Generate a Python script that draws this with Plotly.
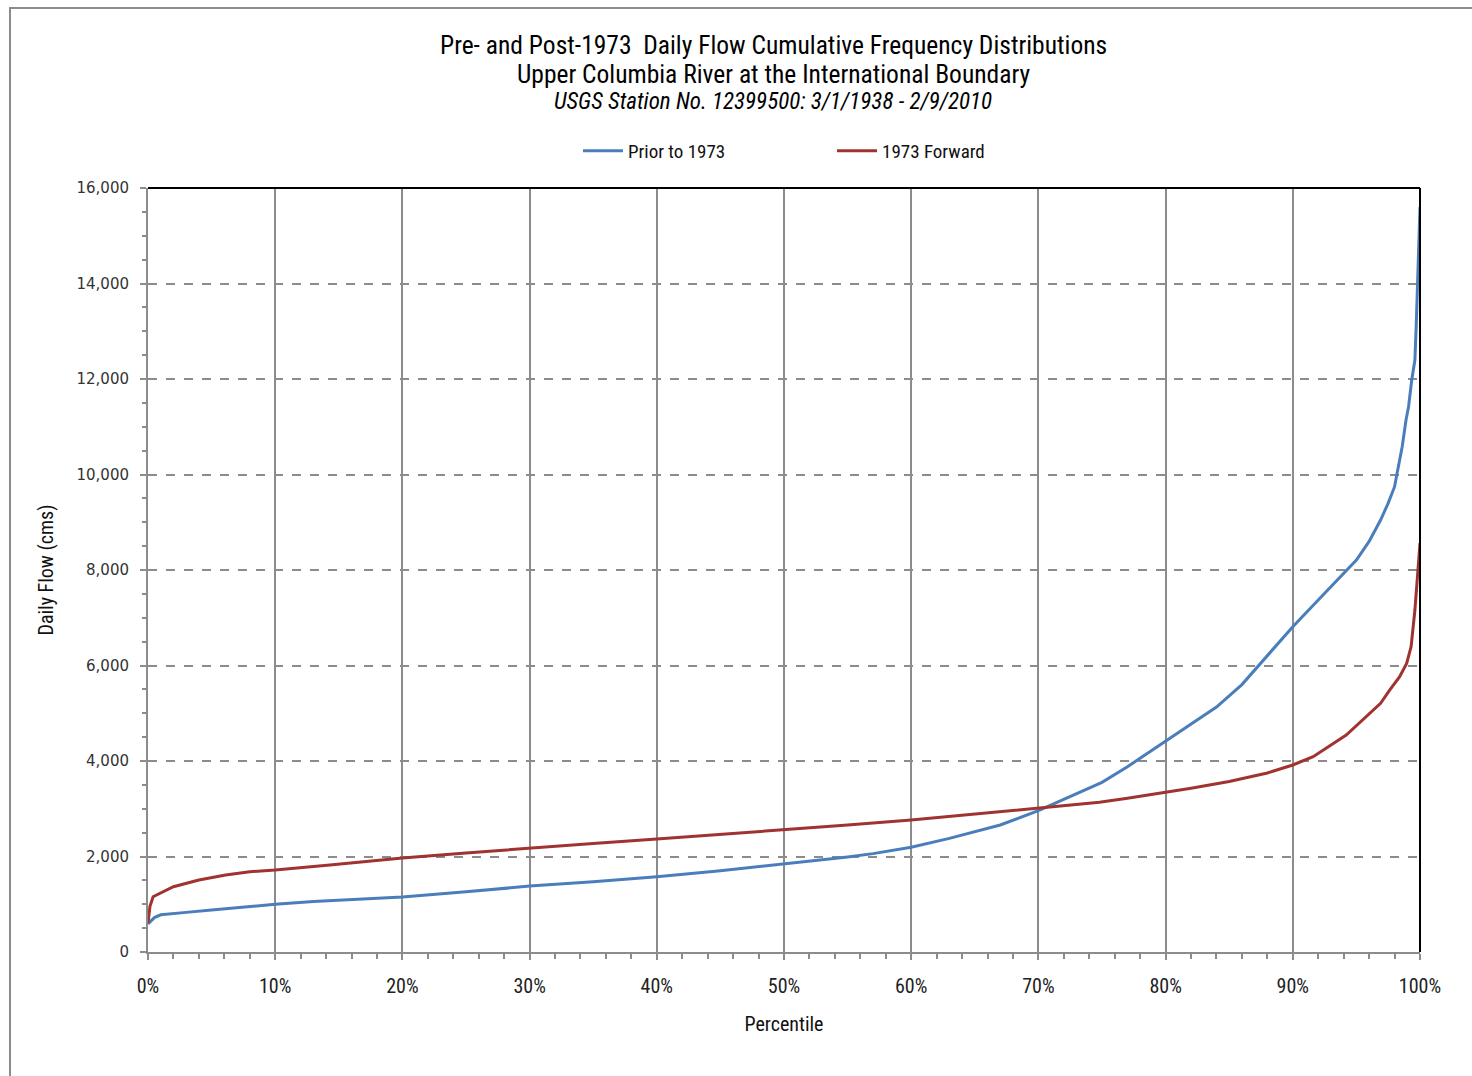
import plotly.graph_objects as go

# Percentile (%) and daily flow (cms)
pre_pct = [0, 0.5, 1, 2, 3, 5, 7, 10, 13, 16, 20, 25, 30, 35, 40, 45, 50, 55, 57, 60, 63, 65, 67, 70, 72, 75, 77, 80, 82, 84, 86, 88, 90, 92, 93.6, 95, 96, 96.9, 97.5, 98, 98.2, 98.6, 98.9, 99.1, 99.35, 99.6, 99.7, 99.8, 99.95, 100]
pre_flow = [590, 720, 780, 800, 830, 880, 930, 1000, 1060, 1100, 1150, 1260, 1380, 1470, 1577, 1700, 1843, 1990, 2060, 2192, 2380, 2520, 2660, 2960, 3200, 3553, 3880, 4418, 4760, 5130, 5600, 6200, 6813, 7370, 7826, 8209, 8600, 9047, 9400, 9745, 10025, 10583, 11141, 11420, 11979, 12398, 13096, 14073, 15554, 15600]

post_pct = [0, 0.15, 0.4, 0.94, 2, 4, 6.1, 8, 10, 14.3, 20, 25, 30, 35, 40, 45, 50, 55, 60, 65, 70, 74.8, 77, 80, 82, 85, 88, 90, 91.6, 94.2, 95.5, 96.9, 97.6, 98.4, 98.95, 99.3, 99.6, 99.8, 100]
post_flow = [600, 950, 1158, 1229, 1368, 1508, 1612, 1682, 1717, 1822, 1969, 2075, 2178, 2270, 2366, 2460, 2555, 2660, 2764, 2890, 3009, 3134, 3220, 3340, 3430, 3570, 3750, 3916, 4090, 4545, 4859, 5208, 5480, 5766, 6045, 6394, 7162, 7860, 8565]

title_lines = [
    "Pre- and Post-1973  Daily Flow Cumulative Frequency Distributions",
    "Upper Columbia River at the International Boundary",
    "<i>USGS Station No. 12399500: 3/1/1938 - 2/9/2010</i>",
]
series_names = ["Prior to 1973", "1973 Forward"]
x_ticks = list(range(0, 101, 10))
x_ticklabels = [f"{v}%" for v in x_ticks]
y_ticks = list(range(0, 16001, 2000))

NARROW = "Liberation Sans Narrow, Arial Narrow, Roboto Condensed, Roboto, sans-serif"
BLUE = "#4A7EBB"
RED = "#A0332F"

fig = go.Figure()
fig.add_trace(go.Scatter(x=pre_pct, y=pre_flow, mode="lines", name=series_names[0],
                         line=dict(color=BLUE, width=3)))
fig.add_trace(go.Scatter(x=post_pct, y=post_flow, mode="lines", name=series_names[1],
                         line=dict(color=RED, width=3)))

fig.update_layout(
    width=1472, height=1076,
    margin=dict(l=148, r=52, t=188, b=124),
    paper_bgcolor="white", plot_bgcolor="white",
    showlegend=True,
    legend=dict(orientation="h", x=(578 - 148) / 1272, xanchor="left",
                y=(952 - 151) / 764, yanchor="middle",
                font=dict(family=NARROW, size=19, color="#111"),
                entrywidth=199, entrywidthmode="pixels", bgcolor="rgba(0,0,0,0)",
                itemwidth=40),
    font=dict(family=NARROW, color="#111"),
)

fig.update_xaxes(
    range=[0, 100], tickvals=x_ticks, ticktext=x_ticklabels,
    tickfont=dict(family=NARROW, size=20, color="#222"),
    ticklabelstandoff=9,
    showgrid=True, gridcolor="#8C8C8C", gridwidth=1.5,
    showline=True, linecolor="#8C8C8C", linewidth=2,
    ticks="outside", ticklen=6, tickcolor="#8C8C8C", tickwidth=1.5,
    minor=dict(dtick=2, ticks="outside", ticklen=5, tickcolor="#8C8C8C", tickwidth=1.5, showgrid=False),
    zeroline=False,
    title=dict(text="Percentile", font=dict(family=NARROW, size=20, color="#111"), standoff=20),
)
fig.update_yaxes(
    range=[0, 16000], tickvals=y_ticks, tickformat=",d",
    tickfont=dict(family="DejaVu Sans", size=15, color="#333"),
    ticklabelstandoff=8,
    showgrid=True, gridcolor="#8C8C8C", gridwidth=1.5, griddash="dash",
    showline=True, linecolor="#8C8C8C", linewidth=2,
    ticks="outside", ticklen=6, tickcolor="#8C8C8C", tickwidth=1.5,
    minor=dict(dtick=500, ticks="outside", ticklen=4, tickcolor="#8C8C8C", tickwidth=1.5, showgrid=False),
    zeroline=False,
    title=dict(text="Daily Flow (cms)", font=dict(family=NARROW, size=20, color="#111"), standoff=18),
)

# title lines
for txt, ypx, sz in zip(title_lines, [45, 74, 101], [25.5, 25.5, 23]):
    fig.add_annotation(text=txt, x=(773 - 148) / 1272, xref="paper", y=(952 - ypx) / 764, yref="paper",
                       showarrow=False, xanchor="center", yanchor="middle",
                       font=dict(family=NARROW, size=sz, color="#000"))

# black top and right plot borders
fig.add_shape(type="line", xref="paper", yref="paper", x0=0, x1=1, y0=1, y1=1,
              line=dict(color="black", width=2))
fig.add_shape(type="line", xref="paper", yref="paper", x0=1, x1=1, y0=0, y1=1,
              line=dict(color="black", width=2))
# outer chart frame
fig.add_shape(type="rect", xref="paper", yref="paper",
              x0=(10 - 148) / 1272, x1=(1480 - 148) / 1272,
              y0=(952 - 1090) / 764, y1=(952 - 8) / 764,
              line=dict(color="#8C8C8C", width=2), layer="below")

fig.write_html("out.html")
